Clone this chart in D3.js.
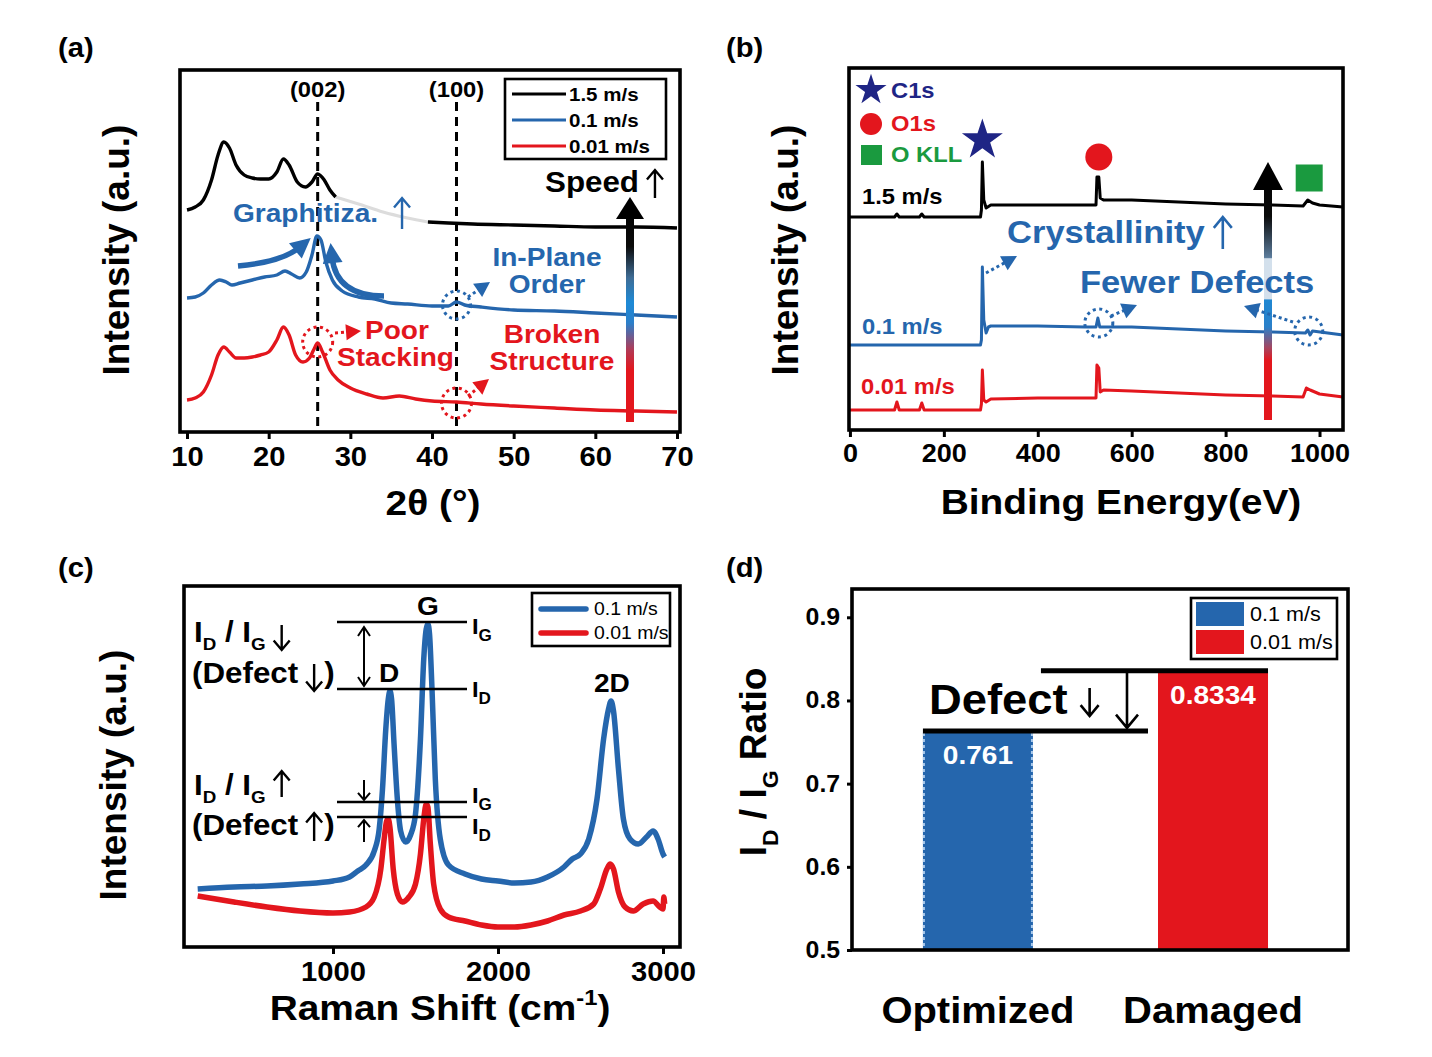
<!DOCTYPE html>
<html><head><meta charset="utf-8"><title>XRD / XPS / Raman / ID-IG</title>
<script src="https://cdn.jsdelivr.net/npm/d3@7/dist/d3.min.js"></script>
<style>html,body{margin:0;padding:0;background:#fff;}</style>
</head><body>
<svg id="fig" width="1432" height="1057" xmlns="http://www.w3.org/2000/svg"></svg>
<script>
// ================= DATA =================
// (a) XRD, intensity in arbitrary units (stacked/offset)
const xrdTicks = [10, 20, 30, 40, 50, 60, 70];
const xrdSeriesNames = ["1.5 m/s", "0.1 m/s", "0.01 m/s"];
const xrdPeakNames = ["(002)", "(100)"];
const xrdPeakPos = [26, 43];
const xrd15 = [[10,220],[11,223],[12,230],[13,250],[13.8,275],[14.5,288],[15.2,282],[16,265],[17,255],[18,252],[19,251],[20,251],[21,258],[21.8,271],[22.5,265],[23.5,248],[24.5,243],[25.3,248],[26,256],[26.8,250],[27.5,240],[28.2,233]];
const xrd15Faded = [[28.2,233],[31,226],[34,218],[37,212],[39.5,208]];
const xrd15Tail = [[39.5,208],[42,207],[45,206],[50,205],[55,204],[60,203],[65,203],[70,202]];
const xrd01 = [[10,132],[11,133],[12,137],[13,145],[14,150],[14.8,148],[15.5,145],[16.5,147],[18,150],[19.5,153],[21,155],[22,159],[22.8,156],[23.8,152],[24.6,158],[25.3,175],[25.9,194],[26.4,190],[27,168],[27.8,150],[29,139],[31,133],[33,131],[35,127],[37,126],[40,124],[42,124],[43,128],[44,125],[46,123],[50,120],[55,119],[60,117],[65,115],[70,113]];
const xrd001 = [[10,30],[11,32],[12,38],[13,55],[13.8,75],[14.5,83],[15.2,78],[16,72],[17,72],[18,73],[19,75],[20,78],[21,90],[21.8,103],[22.5,95],[23.3,75],[24.2,68],[25,72],[25.5,80],[26,87],[26.6,78],[27.5,60],[28.5,50],[30,42],[32,36],[34,32],[36,34],[38,31],[40,29],[43,28],[46,26],[50,24],[55,22],[60,20],[65,19],[70,18]];

// (b) XPS survey, intensity a.u.
const xpsTicks = [0, 200, 400, 600, 800, 1000];
const xps15 = [[0,213],[95,213],[100,216],[105,213],[148,213],[153,216],[158,213],[278,213],[280,220],[282,268],[285,230],[290,222],[300,225],[400,225],[500,225],[524,225],[526,253],[530,253],[533,232],[540,230],[600,230],[700,228],[800,226],[900,225],[965,224],[975,230],[985,227],[1000,225],[1050,223]];
const xps01 = [[0,85],[278,85],[280,90],[282,163],[285,110],[290,97],[295,103],[300,104],[400,104],[500,103],[524,103],[528,112],[532,103],[600,103],[700,101],[800,99],[900,98],[970,97],[975,100],[980,95],[985,99],[1050,95]];
const xps001 = [[0,20],[95,20],[100,28],[105,20],[148,20],[153,27],[158,20],[278,20],[280,26],[282,60],[285,30],[290,28],[300,31],[400,32],[500,32],[524,32],[526,65],[530,62],[533,38],[540,40],[600,39],[700,37],[800,35],[900,34],[965,33],[972,42],[980,40],[1000,36],[1050,33]];
const xpsMarkerNames = ["C1s", "O1s", "O KLL"];
const xpsMarkerPos = [[282,290],[530,273],[978,252]];

// (c) Raman
const ramanTicks = [1000, 2000, 3000];
const ramanSeriesNames = ["0.1 m/s", "0.01 m/s"];
const raman01 = [[180,58],[400,60],[600,61],[800,63],[1000,66],[1100,70],[1150,76],[1200,82],[1250,96],[1280,118],[1300,158],[1320,218],[1335,248],[1345,256],[1355,248],[1370,203],[1390,148],[1410,116],[1440,105],[1470,112],[1500,133],[1530,208],[1550,288],[1565,318],[1575,323],[1585,313],[1600,258],[1620,168],[1650,108],[1700,82],[1800,73],[1900,68],[2000,66],[2100,64],[2200,65],[2300,70],[2400,80],[2450,88],[2500,93],[2550,108],[2600,148],[2640,208],[2670,238],[2685,246],[2700,236],[2730,178],[2760,128],[2800,108],[2850,103],[2900,110],[2940,116],[2970,108],[3000,93],[3010,90]];
const raman001 = [[180,51],[400,45],[600,40],[800,36],[1000,34],[1100,35],[1200,40],[1250,50],[1290,78],[1310,108],[1325,126],[1335,128],[1345,120],[1365,78],[1390,53],[1420,45],[1460,50],[1500,63],[1530,93],[1550,128],[1565,143],[1575,140],[1590,103],[1610,63],[1650,38],[1700,30],[1800,26],[1900,22],[2000,20],[2100,20],[2200,22],[2300,26],[2400,32],[2500,36],[2580,43],[2620,58],[2660,78],[2680,83],[2700,78],[2730,55],[2770,40],[2820,36],[2880,43],[2940,46],[2980,40],[3000,38],[3005,50],[3010,43]];
const ramanPeakNames = ["D", "G", "2D"];
const ramanPeakPos = [1340, 1575, 2690];

// (d) ID/IG ratio
const ratioCategories = ["Optimized", "Damaged"];
const ratioSeriesNames = ["0.1 m/s", "0.01 m/s"];
const ratioValues = [0.761, 0.8334];
const ratioValueLabels = ["0.761", "0.8334"];
const ratioTicks = [0.5, 0.6, 0.7, 0.8, 0.9];

// ================= STYLE =================
const BLUE = "#2566ad", RED = "#e3161d", NAVY = "#1f2585", GREEN = "#1a9a3f", BLK = "#000";
const FONT = '"Liberation Sans", Arial, Helvetica, sans-serif';
const SX = 1.08;

const svg = d3.select("#fig");
const defs = svg.append("defs");

function txt(x, y, s, o = {}) {
  const t = svg.append("text")
    .attr("transform", `translate(${x},${y}) scale(${o.sx ?? SX},1)`)
    .attr("font-family", FONT).attr("font-size", o.fs || 20)
    .attr("font-weight", o.fw || "bold").attr("fill", o.c || BLK)
    .attr("text-anchor", o.a || "start");
  if (s != null) t.text(s);
  return t;
}
function tw(t) { return t.node().getComputedTextLength() * SX; }
function rich(x, y, parts, o = {}) {
  const fs = o.fs || 20, sr = o.subRatio || 0.62, drop = o.drop || 0.3;
  const t = txt(x, y, null, o);
  let sh = 0;
  parts.forEach(p => {
    const ts = t.append("tspan").text(p.t);
    const target = p.sub ? drop * fs : (p.sup ? -0.42 * fs : 0);
    if (target - sh !== 0) ts.attr("dy", target - sh);
    sh = target;
    if (p.sub || p.sup) ts.attr("font-size", fs * sr);
  });
  return t;
}
function thinArrow(x, y0, y1, color, sw = 2.4, hs = 7) {
  const d = Math.sign(y1 - y0);
  svg.append("path")
    .attr("d", `M${x},${y0}L${x},${y1}M${x - hs},${y1 - d * hs * 1.2}L${x},${y1}L${x + hs},${y1 - d * hs * 1.2}`)
    .attr("fill", "none").attr("stroke", color).attr("stroke-width", sw);
}
function headAt(tx, ty, ang, len, hw, color) {
  const bx = tx - Math.cos(ang) * len, by = ty - Math.sin(ang) * len;
  const px = -Math.sin(ang) * hw, py = Math.cos(ang) * hw;
  svg.append("path").attr("d", `M${tx},${ty}L${bx + px},${by + py}L${bx - px},${by - py}Z`).attr("fill", color);
}
function dottedArrow(x0, y0, x1, y1, color) {
  const ang = Math.atan2(y1 - y0, x1 - x0);
  const ex = x1 - Math.cos(ang) * 12, ey = y1 - Math.sin(ang) * 12;
  svg.append("line").attr("x1", x0).attr("y1", y0).attr("x2", ex).attr("y2", ey)
    .attr("stroke", color).attr("stroke-width", 3).attr("stroke-dasharray", "3,3");
  headAt(x1, y1, ang, 15, 8, color);
}
function dottedCircle(cx, cy, r, color) {
  svg.append("circle").attr("cx", cx).attr("cy", cy).attr("r", r).attr("fill", "none")
    .attr("stroke", color).attr("stroke-width", 3).attr("stroke-dasharray", "3,3.6");
}
function curvedArrow(p0, c, p1, color) {
  svg.append("path").attr("d", `M${p0[0]},${p0[1]}Q${c[0]},${c[1]} ${p1[0]},${p1[1]}`)
    .attr("fill", "none").attr("stroke", color).attr("stroke-width", 5.5);
  const ang = Math.atan2(p1[1] - c[1], p1[0] - c[0]);
  headAt(p1[0] + Math.cos(ang) * 14, p1[1] + Math.sin(ang) * 14, ang, 20, 10, color);
}
function box(x0, y0, x1, y1) {
  svg.append("rect").attr("x", x0).attr("y", y0).attr("width", x1 - x0).attr("height", y1 - y0)
    .attr("fill", "none").attr("stroke", BLK).attr("stroke-width", 3.6);
}
function bottomAxis(scale, ticks, y, fs, pad) {
  const g = svg.append("g").attr("transform", `translate(0,${y})`)
    .call(d3.axisBottom(scale).tickValues(ticks).tickSize(7).tickPadding(pad).tickFormat(d3.format("d")));
  g.select(".domain").remove();
  g.selectAll(".tick line").attr("stroke", BLK).attr("stroke-width", 3);
  g.selectAll(".tick text").attr("font-family", FONT).attr("font-size", fs).attr("font-weight", "bold")
    .attr("fill", BLK).attr("transform", `scale(${SX},1)`);
  return g;
}
function yLabel(x, y, parts, fs) {
  const t = svg.append("text").attr("transform", `translate(${x},${y}) rotate(-90)`)
    .attr("font-family", FONT).attr("font-size", fs).attr("font-weight", "bold").attr("text-anchor", "middle");
  let sh = 0;
  parts.forEach(p => {
    const ts = t.append("tspan").text(p.t);
    const target = p.sub ? 0.32 * fs : 0;
    if (target - sh !== 0) ts.attr("dy", target - sh);
    sh = target;
    if (p.sub) ts.attr("font-size", fs * 0.62);
  });
}
function gradient(id, y0, y1, stops) {
  const g = defs.append("linearGradient").attr("id", id).attr("gradientUnits", "userSpaceOnUse")
    .attr("x1", 0).attr("x2", 0).attr("y1", y0).attr("y2", y1);
  stops.forEach(s => g.append("stop").attr("offset", s[0]).attr("stop-color", s[1]));
}
function gradArrow(x, yTip, yBase, yBot, hw, sw, id) {
  svg.append("rect").attr("x", x - sw / 2).attr("y", yBase - 2).attr("width", sw).attr("height", yBot - yBase + 2)
    .attr("fill", `url(#${id})`);
  svg.append("path").attr("d", `M${x},${yTip}L${x + hw},${yBase}L${x - hw},${yBase}Z`).attr("fill", BLK);
}

// ================= PANEL (a) XRD =================
const ax = d3.scaleLinear().domain([9.14, 70.37]).range([180, 680]);
const ay = d3.scaleLinear().domain([0, 360]).range([430, 70]);
const aLine = d3.line().x(d => ax(d[0])).y(d => ay(d[1])).curve(d3.curveMonotoneX);

txt(58, 57, "(a)", { fs: 27 });
xrdPeakPos.forEach((p, i) => {
  svg.append("line").attr("x1", ax(p)).attr("x2", ax(p)).attr("y1", 102).attr("y2", 431)
    .attr("stroke", BLK).attr("stroke-width", 3).attr("stroke-dasharray", "9,6");
  txt(ax(p), 97, xrdPeakNames[i], { fs: 22, a: "middle" });
});
svg.append("path").datum(xrd15Faded).attr("d", aLine).attr("fill", "none").attr("stroke", "#dcdcdc").attr("stroke-width", 3);
[[xrd15, BLK], [xrd15Tail, BLK], [xrd01, BLUE], [xrd001, RED]].forEach(([d, c]) =>
  svg.append("path").datum(d).attr("d", aLine).attr("fill", "none").attr("stroke", c).attr("stroke-width", 3.4).attr("stroke-linejoin", "round"));
box(180, 70, 680, 432);
bottomAxis(ax, xrdTicks, 432, 27, 8);
txt(433, 515, "2θ (°)", { fs: 36, a: "middle" });
yLabel(129, 250, [{ t: "Intensity (a.u.)" }], 37);

svg.append("rect").attr("x", 505).attr("y", 79).attr("width", 161).attr("height", 80).attr("fill", "#fff").attr("stroke", BLK).attr("stroke-width", 2.6);
[BLK, BLUE, RED].forEach((c, i) => {
  const y = 94 + i * 26;
  svg.append("line").attr("x1", 512).attr("x2", 566).attr("y1", y).attr("y2", y).attr("stroke", c).attr("stroke-width", 3);
  txt(569, y + 7, xrdSeriesNames[i], { fs: 19 });
});
gradient("gradA", 197, 422, [[0, "#000"], [0.22, "#0b0b0b"], [0.36, "#3f6d96"], [0.47, "#1d8ad6"], [0.56, "#2b7fca"], [0.68, "#b23a55"], [0.77, RED], [1, RED]]);
gradArrow(630, 197, 219, 422, 14, 8, "gradA");
let t = txt(545, 192, "Speed", { fs: 29 });
thinArrow(545 + tw(t) + 16, 198, 170, BLK, 2.4, 8);
t = txt(233, 222, "Graphitiza.", { fs: 26, c: BLUE });
thinArrow(233 + tw(t) + 24, 229, 198, BLUE, 2.4, 8);
curvedArrow([238, 266], [282, 262], [300, 247], BLUE);
curvedArrow([384, 296], [336, 296], [332, 257], BLUE);
txt(547, 266, "In-Plane", { fs: 26, c: BLUE, a: "middle" });
txt(547, 293, "Order", { fs: 26, c: BLUE, a: "middle" });
dottedCircle(ax(43), ay(125), 14, BLUE);
dottedArrow(468, 297, 490, 282, BLUE);
dottedCircle(ax(26), ay(88), 15, RED);
dottedArrow(335, 333, 361, 331, RED);
txt(365, 339, "Poor", { fs: 26, c: RED });
txt(337, 366, "Stacking", { fs: 26, c: RED });
txt(552, 343, "Broken", { fs: 26, c: RED, a: "middle" });
txt(552, 370, "Structure", { fs: 26, c: RED, a: "middle" });
dottedCircle(ax(43), ay(27), 15, RED);
dottedArrow(468, 396, 489, 379, RED);

// ================= PANEL (b) XPS =================
const bx = d3.scaleLinear().domain([-2, 1050]).range([849, 1343]);
const by = d3.scaleLinear().domain([0, 362]).range([430, 68]);
const bLine = d3.line().x(d => bx(d[0])).y(d => by(d[1]));

txt(726, 57, "(b)", { fs: 27 });
[[xps15, BLK], [xps01, BLUE], [xps001, RED]].forEach(([d, c]) =>
  svg.append("path").datum(d).attr("d", bLine).attr("fill", "none").attr("stroke", c).attr("stroke-width", 3).attr("stroke-linejoin", "round"));
box(849, 68, 1343, 430);
bottomAxis(bx, xpsTicks, 430, 25, 7);
txt(1121, 514, "Binding Energy(eV)", { fs: 36, a: "middle" });
yLabel(798, 250, [{ t: "Intensity (a.u.)" }], 37);

const star = d3.symbol().type(d3.symbolStar);
svg.append("path").attr("d", star.size(300)()).attr("transform", "translate(871,90)").attr("fill", NAVY);
svg.append("circle").attr("cx", 871).attr("cy", 124).attr("r", 11).attr("fill", RED);
svg.append("rect").attr("x", 861).attr("y", 145).attr("width", 21).attr("height", 20).attr("fill", GREEN);
txt(891, 98, xpsMarkerNames[0], { fs: 22, c: NAVY });
txt(891, 131, xpsMarkerNames[1], { fs: 22, c: RED });
txt(891, 162, xpsMarkerNames[2], { fs: 22, c: GREEN });
svg.append("path").attr("d", star.size(520)()).attr("transform", `translate(${bx(xpsMarkerPos[0][0])},${by(xpsMarkerPos[0][1])})`).attr("fill", NAVY);
svg.append("circle").attr("cx", bx(xpsMarkerPos[1][0])).attr("cy", by(xpsMarkerPos[1][1])).attr("r", 13.5).attr("fill", RED);
svg.append("rect").attr("x", bx(xpsMarkerPos[2][0]) - 13.5).attr("y", by(xpsMarkerPos[2][1]) - 13.5).attr("width", 27).attr("height", 27).attr("fill", GREEN);
txt(862, 204, "1.5 m/s", { fs: 22, c: BLK });
txt(862, 334, "0.1 m/s", { fs: 22, c: BLUE });
txt(861, 394, "0.01 m/s", { fs: 22, c: RED });
gradient("gradB", 162, 420, [[0, "#000"], [0.21, "#0a0a0a"], [0.37, "#5b7c9c"], [0.375, "#d3e0ec"], [0.53, "#d3e0ec"], [0.535, "#1f87d2"], [0.64, "#2b80c9"], [0.72, "#a54560"], [0.77, RED], [1, RED]]);
gradArrow(1268, 162, 190, 420, 15, 8, "gradB");
t = txt(1007, 243, "Crystallinity", { fs: 32, c: BLUE });
thinArrow(1007 + tw(t) + 18, 249, 217, BLUE, 2.6, 9);
txt(1080, 293, "Fewer Defects", { fs: 32, c: BLUE });
dottedArrow(986, 273, 1017, 256, BLUE);
dottedCircle(bx(530), by(107), 14, BLUE);
dottedArrow(1111, 316, 1137, 305, BLUE);
dottedCircle(bx(977), by(99), 14, BLUE);
dottedArrow(1293, 322, 1244, 306, BLUE);

// ================= PANEL (c) Raman =================
const cx = d3.scaleLinear().domain([97, 3103]).range([184, 680]);
const cy = d3.scaleLinear().domain([0, 361]).range([947, 586]);
const cLine = d3.line().x(d => cx(d[0])).y(d => cy(d[1])).curve(d3.curveMonotoneX);

txt(58, 577, "(c)", { fs: 27 });
[[raman01, BLUE], [raman001, RED]].forEach(([d, c]) =>
  svg.append("path").datum(d).attr("d", cLine).attr("fill", "none").attr("stroke", c).attr("stroke-width", 5.5).attr("stroke-linejoin", "round"));
box(184, 586, 680, 947);
bottomAxis(cx, ramanTicks, 947, 27, 8);
const cxl = txt(440, 1020, null, { fs: 36, a: "middle" });
cxl.append("tspan").text("Raman Shift (cm");
cxl.append("tspan").text("-1").attr("font-size", 22).attr("dy", -15);
cxl.append("tspan").text(")").attr("dy", 15);
yLabel(126, 775, [{ t: "Intensity (a.u.)" }], 37);

const pkRange = (d, lo, hi) => d3.max(d.filter(p => p[0] > lo && p[0] < hi), p => p[1]);
const peakY = [pkRange(raman01, 1250, 1450), pkRange(raman01, 1500, 1700), pkRange(raman01, 2550, 2800)];
ramanPeakNames.forEach((n, i) => txt(cx(ramanPeakPos[i]), cy(peakY[i]) - 9, n, { fs: 26, a: "middle" }));

const refLines = [
  { v: pkRange(raman01, 1500, 1700), lab: "G", off: 12 },
  { v: pkRange(raman01, 1250, 1450), lab: "D", off: 8 },
  { v: pkRange(raman001, 1500, 1700), lab: "G", off: 1 },
  { v: pkRange(raman001, 1250, 1450), lab: "D", off: 17 }
];
refLines.forEach(r => {
  const y = cy(r.v) - 2;
  svg.append("line").attr("x1", 337).attr("x2", 467).attr("y1", y).attr("y2", y).attr("stroke", BLK).attr("stroke-width", 2.6);
  rich(472, y + r.off, [{ t: "I" }, { t: r.lab, sub: true }], { fs: 22, subRatio: 0.72 });
});
{
  const y0 = cy(refLines[0].v) + 3, y1 = cy(refLines[1].v) - 5;
  svg.append("path").attr("d", `M364,${y0}L364,${y1}M358,${y0 + 9}L364,${y0}L370,${y0 + 9}M358,${y1 - 9}L364,${y1}L370,${y1 - 9}`)
    .attr("fill", "none").attr("stroke", BLK).attr("stroke-width", 2);
  const g0 = cy(refLines[2].v) - 4, d0 = cy(refLines[3].v) + 1;
  thinArrow(364, g0 - 20, g0, BLK, 2, 6);
  thinArrow(364, d0 + 22, d0, BLK, 2, 6);
}
t = rich(194, 642, [{ t: "I" }, { t: "D", sub: true }, { t: " / I" }, { t: "G", sub: true }], { fs: 29, drop: 0.26, subRatio: 0.6 });
thinArrow(194 + tw(t) + 16, 625, 650, BLK, 2.4, 8);
t = txt(192, 683, "(Defect", { fs: 29 });
thinArrow(192 + tw(t) + 16, 664, 691, BLK, 2.4, 8);
txt(192 + tw(t) + 26, 683, ")", { fs: 29 });
t = rich(194, 795, [{ t: "I" }, { t: "D", sub: true }, { t: " / I" }, { t: "G", sub: true }], { fs: 29, drop: 0.26, subRatio: 0.6 });
thinArrow(194 + tw(t) + 16, 797, 771, BLK, 2.4, 8);
t = txt(192, 835, "(Defect", { fs: 29 });
thinArrow(192 + tw(t) + 16, 841, 813, BLK, 2.4, 8);
txt(192 + tw(t) + 26, 835, ")", { fs: 29 });

svg.append("rect").attr("x", 532).attr("y", 593).attr("width", 138).attr("height", 53).attr("fill", "#fff").attr("stroke", BLK).attr("stroke-width", 2.6);
[BLUE, RED].forEach((c, i) => {
  const y = 609 + i * 24;
  svg.append("line").attr("x1", 541).attr("x2", 586).attr("y1", y).attr("y2", y).attr("stroke", c).attr("stroke-width", 5.5).attr("stroke-linecap", "round");
  txt(594, y + 6, ramanSeriesNames[i], { fs: 18, fw: "normal" });
});

// ================= PANEL (d) ratio bars =================
const dx = d3.scaleBand().domain(ratioCategories).range([852, 1348]).paddingInner(0.532).paddingOuter(0.321).align(0.47);
const dy = d3.scaleLinear().domain([0.5, 0.934]).range([950, 589]);

txt(726, 577, "(d)", { fs: 27 });
const barColors = [BLUE, RED];
ratioCategories.forEach((c, i) => {
  svg.append("rect").attr("x", dx(c)).attr("y", dy(ratioValues[i])).attr("width", dx.bandwidth())
    .attr("height", dy(0.5) - dy(ratioValues[i])).attr("fill", barColors[i]);
});
[dx(ratioCategories[0]) + 1, dx(ratioCategories[0]) + dx.bandwidth() - 1].forEach(x =>
  svg.append("line").attr("x1", x).attr("x2", x).attr("y1", dy(ratioValues[0])).attr("y2", dy(0.5))
    .attr("stroke", "#a9c9ec").attr("stroke-width", 2).attr("stroke-dasharray", "3,3"));
ratioCategories.forEach((c, i) =>
  txt(dx(c) + dx.bandwidth() / 2, dy(ratioValues[i]) + 31, ratioValueLabels[i], { fs: 26, c: "#fff", a: "middle" }));
box(852, 589, 1348, 950);
{
  const g = svg.append("g").attr("transform", "translate(852,0)")
    .call(d3.axisLeft(dy).tickValues(ratioTicks).tickSize(5).tickPadding(6).tickFormat(d3.format(".1f")));
  g.select(".domain").remove();
  g.selectAll(".tick line").attr("stroke", BLK).attr("stroke-width", 3);
  g.selectAll(".tick text").attr("font-family", FONT).attr("font-size", 23).attr("font-weight", "bold").attr("fill", BLK)
    .attr("transform", `scale(${SX},1)`);
}
ratioCategories.forEach(c => txt(dx(c) + dx.bandwidth() / 2, 1023, c, { fs: 37, a: "middle" }));
yLabel(766, 762, [{ t: "I" }, { t: "D", sub: true }, { t: " / I" }, { t: "G", sub: true }, { t: " Ratio" }], 37);

{
  const yLo = dy(ratioValues[0]) - 2, yHi = dy(ratioValues[1]) - 2;
  const x0 = dx(ratioCategories[0]), x1 = dx(ratioCategories[1]) + dx.bandwidth();
  svg.append("line").attr("x1", x0).attr("x2", dx(ratioCategories[1]) - 10).attr("y1", yLo).attr("y2", yLo).attr("stroke", BLK).attr("stroke-width", 5);
  svg.append("line").attr("x1", x0 + dx.bandwidth() + 8).attr("x2", x1).attr("y1", yHi).attr("y2", yHi).attr("stroke", BLK).attr("stroke-width", 5);
  thinArrow(1127, yHi, yLo - 3, BLK, 2.6, 11);
  const tt = txt(929, 714, "Defect", { fs: 42 });
  thinArrow(929 + tw(tt) + 22, 688, 716, BLK, 2.6, 9);
}
svg.append("rect").attr("x", 1191).attr("y", 598).attr("width", 146).attr("height", 61).attr("fill", "#fff").attr("stroke", BLK).attr("stroke-width", 2.6);
[BLUE, RED].forEach((c, i) => {
  svg.append("rect").attr("x", 1196).attr("y", 602 + i * 28).attr("width", 48).attr("height", 24).attr("fill", c);
  txt(1250, 621 + i * 28, ratioSeriesNames[i], { fs: 20, fw: "normal" });
});
</script>
</body></html>
